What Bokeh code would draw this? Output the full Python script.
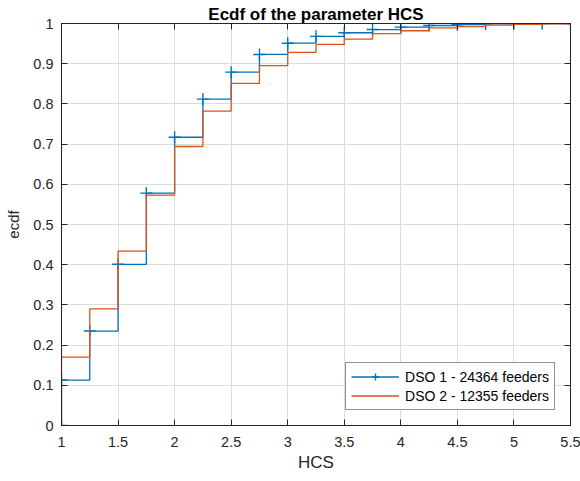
from bokeh.plotting import figure
from bokeh.models import (Range1d, LinearAxis, FixedTicker, Legend, LegendItem)
from bokeh.embed import file_html
from bokeh.resources import INLINE

# HCS levels at which the empirical CDF steps
hcs_levels = [1.0, 1.25, 1.5, 1.75, 2.0, 2.25, 2.5, 2.75, 3.0, 3.25,
              3.5, 3.75, 4.0, 4.25, 4.5, 4.75, 5.0, 5.25, 5.5]

# ECDF value reached at each level
dso1_ecdf = [0.113, 0.235, 0.401, 0.578, 0.717, 0.812, 0.879, 0.923, 0.951, 0.968,
             0.977, 0.985, 0.991, 0.995, 0.997, 0.999, 1.0, 1.0, 1.0]
dso2_ecdf = [0.170, 0.290, 0.434, 0.573, 0.694, 0.782, 0.851, 0.895, 0.928, 0.948,
             0.961, 0.975, 0.982, 0.989, 0.992, 0.996, 0.998, 0.999, 1.0]

dso1_label = "DSO 1 - 24364 feeders"
dso2_label = "DSO 2 - 12355 feeders"

x_ticks = [1, 1.5, 2, 2.5, 3, 3.5, 4, 4.5, 5, 5.5]
x_tick_labels = ["1", "1.5", "2", "2.5", "3", "3.5", "4", "4.5", "5", "5.5"]
y_ticks = [0, 0.1, 0.2, 0.3, 0.4, 0.5, 0.6, 0.7, 0.8, 0.9, 1.0]
y_tick_labels = ["0", "0.1", "0.2", "0.3", "0.4", "0.5", "0.6", "0.7", "0.8", "0.9", "1"]

FONT = "Liberation Sans"
INK = "#262626"
BLUE = "#0072BD"
ORANGE = "#D95319"

# stairs start from zero at the first level
xs = [hcs_levels[0]] + hcs_levels
y1 = [0.0] + dso1_ecdf
y2 = [0.0] + dso2_ecdf

p = figure(width=580, height=481, output_backend="svg", toolbar_location=None,
           x_range=Range1d(1, 5.5), y_range=Range1d(0, 1),
           min_border_left=61, min_border_right=10,
           min_border_top=23, min_border_bottom=56,
           background_fill_color="white", border_fill_color="white")

p.title.text = "Ecdf of the parameter HCS"
p.title.text_font = FONT
p.title.text_font_size = "17px"
p.title.text_font_style = "bold"
p.title.text_color = "#000000"
p.title.align = "center"
p.title.standoff = 0

p.outline_line_color = INK
p.outline_line_width = 1

r_step1 = p.step(xs, y1, mode="after", line_color=BLUE, line_width=1.3)
r_mark1 = p.scatter(xs, y1, marker="cross", size=12, line_color=BLUE, line_width=1.4)
r_step2 = p.step(xs, y2, mode="after", line_color=ORANGE, line_width=1.3)

def style_axis(ax, ticks, labels, show_labels=True):
    ax.ticker = FixedTicker(ticks=ticks)
    ax.major_tick_in = 6
    ax.major_tick_out = 0
    ax.minor_tick_in = 0
    ax.minor_tick_out = 0
    ax.axis_line_color = INK
    ax.major_tick_line_color = INK
    if show_labels:
        ax.major_label_overrides = {t: l for t, l in zip(ticks, labels)}
        ax.major_label_text_font = FONT
        ax.major_label_text_color = INK
        ax.major_label_text_font_size = "14.5px"
        ax.axis_label_text_font = FONT
        ax.axis_label_text_color = INK
        ax.axis_label_text_font_style = "normal"
    else:
        # tick marks only on the opposite sides of the box
        ax.major_label_text_color = None
        ax.major_label_text_font_size = "1px"
        ax.major_label_standoff = 0

xa = p.xaxis[0]
style_axis(xa, x_ticks, x_tick_labels)
xa.major_label_standoff = 11
xa.axis_label = "HCS"
xa.axis_label_text_font_size = "17px"
xa.axis_label_standoff = 3

ya = p.yaxis[0]
style_axis(ya, y_ticks, y_tick_labels)
ya.major_label_standoff = 8
ya.axis_label = "ecdf"
ya.axis_label_text_font_size = "15px"
ya.axis_label_standoff = 8

top_axis = LinearAxis()
style_axis(top_axis, x_ticks, x_tick_labels, show_labels=False)
p.add_layout(top_axis, "above")
right_axis = LinearAxis()
style_axis(right_axis, y_ticks, y_tick_labels, show_labels=False)
p.add_layout(right_axis, "right")

p.xgrid.ticker = FixedTicker(ticks=x_ticks)
p.ygrid.ticker = FixedTicker(ticks=y_ticks)
for g in (p.xgrid[0], p.ygrid[0]):
    g.grid_line_color = "#dcdcdc"
    g.grid_line_width = 1

legend = Legend(items=[
    LegendItem(label=dso1_label, renderers=[r_step1, r_mark1]),
    LegendItem(label=dso2_label, renderers=[r_step2]),
])
legend.location = "bottom_right"
legend.margin = 15
legend.padding = 5
legend.spacing = 2
legend.glyph_width = 48
legend.glyph_height = 17
legend.label_height = 17
legend.label_standoff = 6
legend.label_text_font = FONT
legend.label_text_font_size = "14px"
legend.label_text_color = "#000000"
legend.border_line_color = INK
legend.border_line_width = 1
legend.background_fill_color = "white"
legend.background_fill_alpha = 1
p.add_layout(legend, "center")

open("out.html", "w").write(file_html(p, INLINE))
